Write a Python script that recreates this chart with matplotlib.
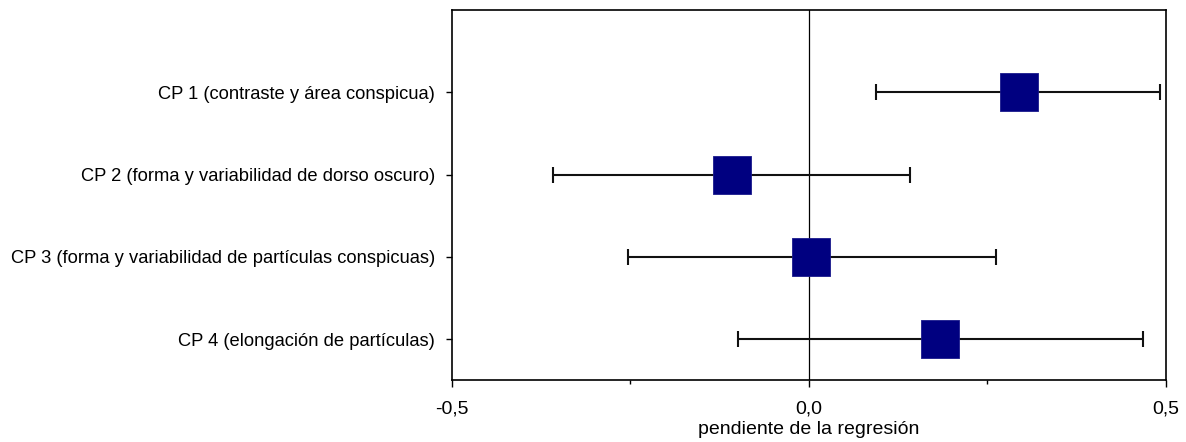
import matplotlib.pyplot as plt
from matplotlib.ticker import MultipleLocator

# Componentes principales y pendientes de la regresión
labels = ["CP 1 (contraste y área conspicua)",
          "CP 2 (forma y variabilidad de dorso oscuro)",
          "CP 3 (forma y variabilidad de partículas conspicuas)",
          "CP 4 (elongación de partículas)"]
slope = [0.294, -0.107, 0.003, 0.184]
lower = [0.094, -0.359, -0.254, -0.099]
upper = [0.492, 0.141, 0.262, 0.468]

plt.rcParams['font.family'] = ['Liberation Sans', 'DejaVu Sans']

fig = plt.figure(figsize=(11.86, 4.42), dpi=100)
ax = fig.add_axes([0.381, 0.140, 0.602, 0.837])

pos = list(range(1, len(labels) + 1))
err_lo = [s - l for s, l in zip(slope, lower)]
err_hi = [u - s for s, u in zip(slope, upper)]

ax.axvline(0, color="black", lw=0.9, zorder=1)
ax.errorbar(slope, pos, xerr=[err_lo, err_hi], fmt="none", ecolor="#111111",
            elinewidth=1.5, capsize=5.5, capthick=1.5, zorder=2)
ax.scatter(slope, pos, marker="s", s=780, color="#000080", edgecolors="#1a1a8c",
           linewidths=0.6, zorder=3)

ax.set_xlim(-0.5, 0.5)
ax.set_ylim(4.5, 0)
ax.set_yticks(pos)
ax.set_yticklabels(labels, fontsize=13.2)
ax.xaxis.set_major_locator(MultipleLocator(0.5))
ax.xaxis.set_minor_locator(MultipleLocator(0.25))
ax.set_xticklabels([f"{v:.1f}".replace(".", ",") for v in ax.get_xticks()], fontsize=14)
ax.tick_params(axis="x", which="major", length=5, width=1, direction="out", pad=10)
ax.tick_params(axis="x", which="minor", length=3, width=1, direction="out")
ax.tick_params(axis="y", length=4, width=1, direction="out", pad=8)
ax.set_xlabel("pendiente de la regresión", fontsize=14, labelpad=2)
for sp in ax.spines.values():
    sp.set_linewidth(1.2)

fig.savefig("out.png", dpi=100)
